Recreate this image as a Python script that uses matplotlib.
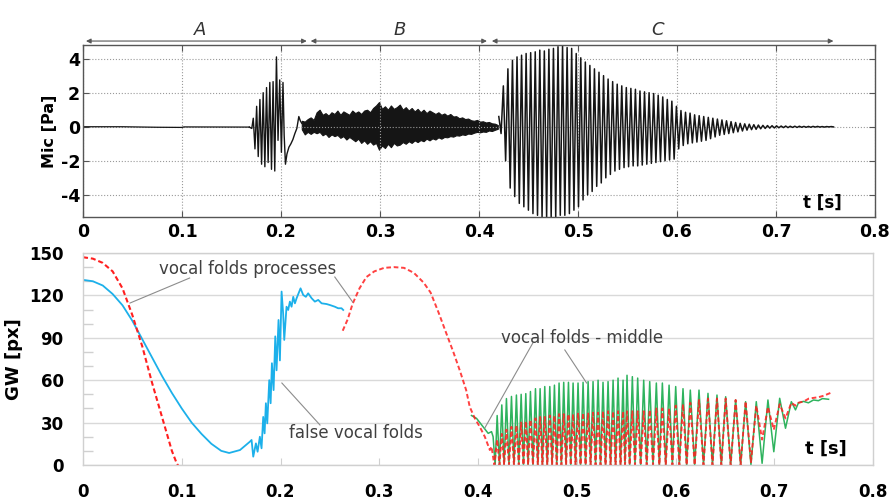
import numpy as np
import matplotlib.pyplot as plt
from matplotlib.ticker import MultipleLocator

plt.rcParams['font.family'] = 'DejaVu Sans'

# ---------------- microphone signal (top panel) ----------------
# near-silent lead-in
mic_quiet_t = [0.0, 0.04, 0.075, 0.100, 0.102, 0.168]
mic_quiet_v = [0.0, 0.0, -0.03, -0.04, -0.01, -0.02]

# onset burst around 0.17-0.22 s
mic_burst_t = [0.168, 0.1705, 0.172, 0.1737, 0.1754, 0.1770, 0.1787, 0.1804,
               0.1820, 0.1837, 0.1854, 0.1870, 0.1887, 0.1904, 0.1920, 0.1937,
               0.1954, 0.1970, 0.1987, 0.2004, 0.2020, 0.2032, 0.2045, 0.2060,
               0.2080, 0.2100, 0.2120, 0.2140, 0.2160, 0.2180, 0.2195, 0.2210]
mic_burst_v = [-0.02, -0.1, 0.5, -1.3, 1.2, -1.75, 1.6, -2.2,
               2.0, -2.35, 2.3, -2.1, 2.6, -2.5, 2.65, -2.6,
               4.1, -0.8, 2.75, -1.5, 2.6, -0.5, -2.2, -1.6,
               -1.2, -1.0, -0.75, -0.4, -0.1, 0.6, 0.35, 0.2]

# breathy noise band: upper and lower edge
mic_noise_t = [0.221, 0.224, 0.227, 0.230, 0.233, 0.236, 0.239, 0.242, 0.245,
               0.248, 0.251, 0.254, 0.257, 0.260, 0.263, 0.266, 0.269, 0.272,
               0.275, 0.278, 0.281, 0.284, 0.287, 0.290, 0.293, 0.296, 0.299,
               0.302, 0.305, 0.308, 0.311, 0.314, 0.317, 0.320, 0.323, 0.326,
               0.329, 0.332, 0.335, 0.338, 0.341, 0.344, 0.347, 0.350, 0.353,
               0.356, 0.359, 0.362, 0.365, 0.368, 0.371, 0.374, 0.377, 0.380,
               0.383, 0.386, 0.389, 0.392, 0.395, 0.398, 0.401, 0.404, 0.407,
               0.410, 0.413, 0.416, 0.419]
mic_noise_hi = [0.35, 0.30, 0.45, 0.55, 0.40, 0.85, 1.00, 0.70, 0.80,
                0.65, 0.85, 0.75, 0.95, 0.70, 0.90, 0.80, 0.70, 0.95,
                0.80, 0.90, 0.75, 0.95, 1.00, 0.85, 1.10, 1.25, 1.45,
                1.05, 1.20, 1.00, 1.25, 1.05, 1.15, 1.30, 1.00, 1.15,
                0.95, 1.10, 0.90, 1.05, 0.85, 1.00, 0.80, 0.95, 0.85,
                0.75, 0.85, 0.70, 0.78, 0.65, 0.75, 0.60, 0.62, 0.50,
                0.55, 0.45, 0.48, 0.38, 0.35, 0.40, 0.30, 0.32, 0.25,
                0.28, 0.20, 0.18, 0.10]
mic_noise_lo = [-0.15, -0.45, -0.30, -0.42, -0.30, -0.38, -0.30, -0.50, -0.40,
                -0.60, -0.45, -0.55, -0.48, -0.65, -0.55, -0.75, -0.60, -0.72,
                -0.85, -0.70, -0.95, -0.80, -1.00, -0.85, -1.05, -0.95, -1.35,
                -1.10, -1.25, -1.00, -1.20, -0.95, -1.10, -1.05, -0.90, -1.00,
                -0.85, -0.95, -0.80, -0.90, -0.78, -0.85, -0.70, -0.80, -0.68,
                -0.75, -0.62, -0.70, -0.60, -0.62, -0.55, -0.58, -0.50, -0.52,
                -0.45, -0.48, -0.40, -0.42, -0.35, -0.30, -0.33, -0.28, -0.30,
                -0.22, -0.25, -0.18, -0.12]

# voiced part: one maximum and one minimum per cycle
mic_cycle_start = 0.42
mic_cycle_period = 0.0046
mic_cycle_hi = [0.6, 2.4, 3.4, 3.9, 4.1, 4.2, 4.3, 4.35, 4.4, 4.5,
                4.45, 4.55, 4.6, 4.7, 4.75, 4.65, 4.6, 4.3, 4.05, 3.8,
                3.6, 3.4, 3.2, 3.0, 2.8, 2.65, 2.5, 2.4, 2.3, 2.25,
                2.2, 2.1, 2.05, 2.0, 1.95, 1.85, 1.75, 1.6, 1.5, 1.2,
                0.95, 0.85, 0.8, 0.7, 0.65, 0.6, 0.55, 0.5, 0.45, 0.4,
                0.35, 0.3, 0.25, 0.2, 0.17, 0.15, 0.12, 0.1, 0.08, 0.07,
                0.06, 0.05, 0.04, 0.04, 0.03, 0.03, 0.03, 0.02, 0.02, 0.02,
                0.02, 0.01, 0.01, 0.01]
mic_cycle_lo = [-0.4, -2.0, -3.6, -4.1, -4.5, -4.7, -4.9, -5.1, -5.2, -5.3,
                -5.3, -5.3, -5.3, -5.2, -5.2, -5.1, -4.9, -4.7, -4.3, -4.0,
                -3.8, -3.5, -3.3, -3.0, -2.8, -2.6, -2.5, -2.4, -2.35, -2.3,
                -2.3, -2.25, -2.2, -2.15, -2.1, -2.05, -2.0, -1.95, -1.9, -1.3,
                -1.1, -1.0, -0.95, -0.9, -0.85, -0.8, -0.7, -0.6, -0.5, -0.45,
                -0.4, -0.35, -0.3, -0.25, -0.2, -0.17, -0.15, -0.12, -0.1, -0.08,
                -0.07, -0.06, -0.05, -0.05, -0.04, -0.04, -0.03, -0.03, -0.03, -0.02,
                -0.02, -0.02, -0.01, -0.01]

# phase spans drawn above the top panel
phase_names = ['A', 'B', 'C']
phase_spans = [(0.003, 0.226), (0.230, 0.408), (0.413, 0.758)]
phase_label_t = [0.118, 0.320, 0.580]

# ---------------- glottal width (bottom panel) ----------------
false_folds_t = [0.0, 0.01, 0.02, 0.03, 0.04, 0.05, 0.06, 0.07, 0.08, 0.09,
                 0.10, 0.11, 0.12, 0.13, 0.14, 0.148, 0.159,
                 0.1690, 0.1707, 0.1724, 0.1751, 0.1768, 0.1791, 0.1808, 0.1825,
                 0.1839, 0.1852, 0.1866, 0.1886, 0.1900, 0.1913, 0.1930, 0.1947,
                 0.1960, 0.1980, 0.1994, 0.2011, 0.2027, 0.2038, 0.2061, 0.2078,
                 0.2095, 0.2112, 0.2129, 0.2146, 0.2163, 0.2203, 0.2230, 0.2257,
                 0.2280, 0.2315, 0.2348, 0.2382, 0.2416, 0.2466, 0.2500, 0.2550,
                 0.2584, 0.2618, 0.2635]
false_folds_v = [131, 130, 127, 121, 113, 102, 89, 76, 63, 51,
                 40, 30, 22, 15, 10, 8.5, 10.6,
                 16.5, 17.7, 5.9, 15.3, 9.4, 20, 11.8, 34,
                 22.4, 43.7, 29.5, 60, 43.7, 72, 53, 91,
                 67, 102.6, 74, 122.7, 107, 88.5, 112, 109.7,
                 115.6, 112, 119, 114.4, 118, 125, 120.3, 119,
                 121.5, 118, 115.6, 116.8, 114.4, 113.9, 113.2, 112,
                 110.9, 110.9, 109.7]

# vocal folds processes
proc_a_t = [0.0, 0.01, 0.02, 0.03, 0.04, 0.05, 0.06, 0.07, 0.08, 0.085,
            0.09, 0.095, 0.098]
proc_a_v = [147, 146, 143, 137, 125, 106, 84, 58, 34, 22, 10, 1, -2]
proc_b_t = [0.263, 0.268, 0.273, 0.280, 0.287, 0.295, 0.305, 0.315, 0.325,
            0.335, 0.345, 0.352, 0.360, 0.368, 0.375, 0.382, 0.388, 0.3917,
            0.3968, 0.4018, 0.4069, 0.412, 0.4137]
proc_b_v = [95, 103, 114, 125, 133, 137, 139.5, 140, 139.5,
            136, 129, 122, 108, 93, 80, 66, 53, 41,
            33, 27, 20, 10.6, 13]

# vocal folds - middle, before oscillation
mid_pre_t = [0.3934, 0.3985, 0.4052, 0.4103, 0.4137, 0.4153]
mid_pre_v = [35, 33, 27, 22.4, 23.6, 20]

# oscillation: peak time of every cycle, peak and trough values
osc_peak_t = [0.4194, 0.4241, 0.4288, 0.4339, 0.4389, 0.4437, 0.4484, 0.4531,
              0.4582, 0.4629, 0.4676, 0.4727, 0.4774, 0.4821, 0.4868, 0.4916,
              0.4963, 0.5013, 0.5064, 0.5115, 0.5165, 0.5216, 0.5266, 0.5317,
              0.5368, 0.5418, 0.5469, 0.5509, 0.5563, 0.5617, 0.5678, 0.5739,
              0.5806, 0.5867, 0.5935, 0.6002, 0.6076, 0.6150, 0.6238, 0.6329,
              0.6420, 0.6508, 0.6609, 0.6710, 0.6818, 0.6936, 0.7055, 0.7173]
mid_peak_v = [35, 42.5, 47, 48.5, 49.5, 50, 50.5, 52,
              54, 54, 55.5, 55.5, 56.5, 58, 58.5, 58.5,
              58, 58, 58.5, 59, 59, 60, 58.5, 59,
              60, 61.5, 60, 63.5, 62.5, 61.5, 60, 59,
              58, 58, 56.5, 55.5, 54, 53, 53, 50.7,
              49.5, 48.3, 46, 44.8, 44.8, 46, 47.2, 44.8]
mid_trough_v = [0] * 44 + [0, 1.2, 9.4, 26]
proc_peak_v = [18, 22, 25, 27, 28, 30, 31, 32,
               33, 34, 34, 35, 35, 36, 36, 36,
               36, 37, 37, 37, 37, 37, 38, 38,
               38, 38, 38, 38, 38, 38, 38, 39,
               40, 40, 40, 42, 43, 44, 46, 47,
               47, 47, 46, 45, 42, 41, 43, 44]
proc_trough_v = [0] * 44 + [2, 18, 25, 33]

mid_tail_t = [0.7215, 0.7245, 0.7296, 0.7346, 0.7397, 0.7447, 0.7488, 0.7550]
mid_tail_v = [39, 44, 45, 44, 46, 45.5, 47, 46.5]
proc_tail_t = [0.7215, 0.7245, 0.7300, 0.7350, 0.7400, 0.7450, 0.7500, 0.7570]
proc_tail_v = [42, 44, 45, 47, 47.5, 48, 49, 51]


def glottal_trace(pre_t, pre_v, peak_t, peak_v, trough_v, tail_t, tail_v):
    """Join lead-in, per-cycle trough/peak pairs and tail into one trace."""
    t, v = list(pre_t), list(pre_v)
    prev = pre_t[-1]
    for tp, pk, tr in zip(peak_t, peak_v, trough_v):
        t += [(prev + tp) / 2, tp]
        v += [tr, pk]
        prev = tp
    return np.array(t + list(tail_t)), np.array(v + list(tail_v))


W, H = 889, 504
fig = plt.figure(figsize=(W / 100, H / 100), dpi=100)
ax1 = fig.add_axes([83 / W, 1 - 217 / H, 792 / W, 172 / H])
ax2 = fig.add_axes([83 / W, 1 - 465 / H, 790 / W, 212 / H])

# ---- top panel ----
ink = '#151515'
ax1.plot(mic_quiet_t, mic_quiet_v, color=ink, lw=0.9)
ax1.plot(mic_burst_t, mic_burst_v, color=ink, lw=1.0)
ax1.fill_between(mic_noise_t, mic_noise_lo, mic_noise_hi, color=ink, lw=0.8)
cyc_t = mic_cycle_start + mic_cycle_period * np.arange(len(mic_cycle_hi))
zig_t = np.column_stack([cyc_t, cyc_t + mic_cycle_period / 2]).ravel()
zig_v = np.column_stack([mic_cycle_hi, mic_cycle_lo]).ravel()
ax1.plot(zig_t, zig_v, color=ink, lw=1.1)

ax1.set_xlim(0, 0.8)
ax1.set_ylim(-5.3, 4.8)
xt = np.round(np.arange(0, 0.81, 0.1), 1)
xl = ['0'] + ['%.1f' % x for x in xt[1:]]
ax1.set_xticks(xt, xl, fontweight='bold')
ax1.set_yticks([-4, -2, 0, 2, 4], ['-4', '-2', '0', '2', '4'], fontweight='bold')
ax1.grid(True, ls=':', color='#9a9a9a', lw=0.8)
ax1.tick_params(direction='in', top=True, right=True, length=4, width=0.8,
                color='#555555', labelsize=12.5)
ax1.tick_params(axis='x', pad=4)
ax1.tick_params(axis='y', pad=2)
for sp in ax1.spines.values():
    sp.set_color('#555555')
    sp.set_linewidth(1.0)
ax1.set_ylabel('Mic [Pa]', fontsize=11.5, fontweight='bold', labelpad=3)
ax1.text(0.934, 0.081, 't [s]', transform=ax1.transAxes, ha='center',
         va='center', fontsize=12, fontweight='bold')

span_tr = ax1.get_xaxis_transform()
for name, (t0, t1), tl in zip(phase_names, phase_spans, phase_label_t):
    ax1.annotate('', xy=(t1, 1.023), xytext=(t0, 1.023), xycoords=span_tr,
                 textcoords=span_tr, annotation_clip=False,
                 arrowprops=dict(arrowstyle='<|-|>', color='#555555', lw=0.8,
                                 mutation_scale=7, shrinkA=0, shrinkB=0))
    ax1.text(tl, 1.087, name, transform=span_tr, ha='center', va='center',
             fontsize=13, fontstyle='italic', color='#333333')

# ---- bottom panel ----
blue = '#1cb0ea'
red = '#ff1f1f'
green = '#2fb35e'

ax2.plot(false_folds_t, false_folds_v, color=blue, lw=1.3)
ax2.plot(proc_a_t, proc_a_v, color=red, lw=1.5, dashes=(2.4, 1.4))

mid_t, mid_v = glottal_trace(mid_pre_t, mid_pre_v, osc_peak_t, mid_peak_v,
                             mid_trough_v, mid_tail_t, mid_tail_v)
proc_t, proc_v = glottal_trace(proc_b_t, proc_b_v, osc_peak_t, proc_peak_v,
                               proc_trough_v, proc_tail_t, proc_tail_v)
ax2.plot(mid_t, mid_v, color=green, lw=1.1)
ax2.plot(proc_t, proc_v, color=red, lw=1.4, dashes=(2.4, 1.4), alpha=0.85)

ax2.set_xlim(0, 0.8)
ax2.set_ylim(0, 150)
ax2.set_xticks(xt, xl, fontweight='bold')
ax2.set_yticks(np.arange(0, 151, 30), [str(v) for v in range(0, 151, 30)],
               fontweight='bold')
ax2.yaxis.set_minor_locator(MultipleLocator(10))
ax2.grid(axis='y', which='major', color='#d9d9d9', lw=1)
ax2.tick_params(axis='y', which='major', length=0, labelsize=12, pad=14)
ax2.tick_params(axis='y', which='minor', direction='in', length=7,
                color='#d0d0d0', width=1)
ax2.tick_params(axis='x', direction='in', length=5, color='#d0d0d0',
                labelsize=12, pad=13)
for sp in ax2.spines.values():
    sp.set_color('#d0d0d0')
    sp.set_linewidth(1.0)
ax2.set_ylabel('GW [px]', fontsize=13, fontweight='bold', labelpad=4)
ax2.text(0.9405, 0.075, 't [s]', transform=ax2.transAxes, ha='center',
         va='center', fontsize=13, fontweight='bold')

note = '#404040'
lead = '#8c8c8c'
ax2.text(0.167, 138.7, 'vocal folds processes', ha='center', va='center',
         fontsize=12, color=note)
ax2.plot([0.108, 0.0476], [132.3, 114.6], color=lead, lw=0.8)
ax2.plot([0.255, 0.273], [133, 115.4], color=lead, lw=0.8)
ax2.text(0.276, 22.6, 'false vocal folds', ha='center', va='center',
         fontsize=12, color=note)
ax2.plot([0.2014, 0.240], [58, 28.3], color=lead, lw=0.8)
ax2.text(0.505, 89.9, 'vocal folds - middle', ha='center', va='center',
         fontsize=12, color=note)
ax2.plot([0.4555, 0.4069], [86.3, 26.2], color=lead, lw=0.8)
ax2.plot([0.4879, 0.510], [81.4, 58], color=lead, lw=0.8)

fig.savefig('out.png', dpi=100)
